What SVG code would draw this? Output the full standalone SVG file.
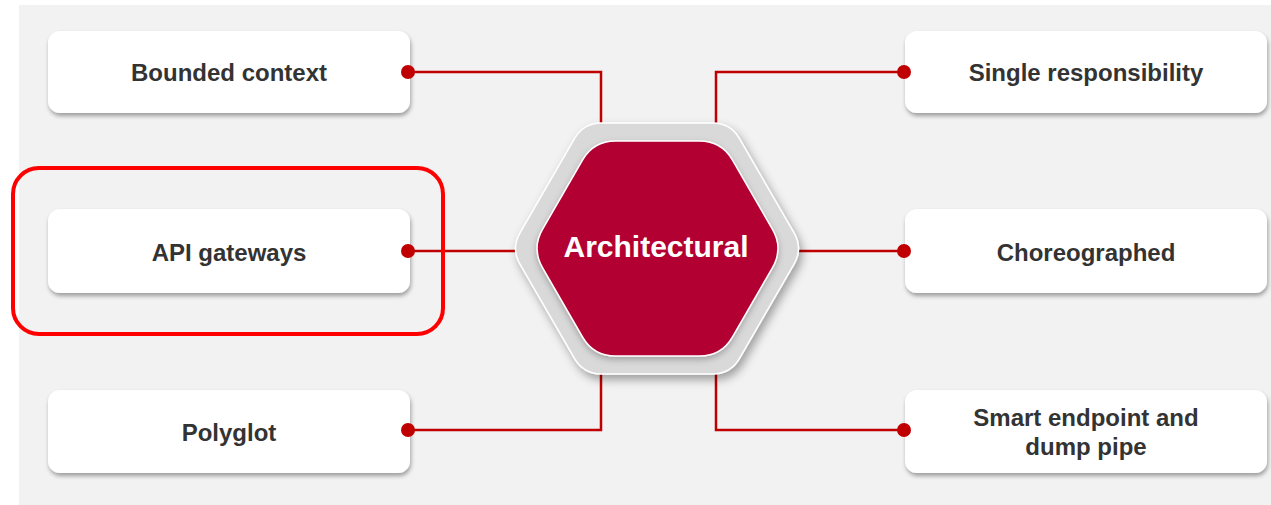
<svg xmlns="http://www.w3.org/2000/svg" width="1271" height="505" viewBox="0 0 1271 505">
  <defs>
    <filter id="sh" x="-10%" y="-20%" width="120%" height="150%">
      <feDropShadow dx="1" dy="3" stdDeviation="2" flood-color="#000" flood-opacity="0.35"/>
    </filter>
    <filter id="hsh" x="-20%" y="-20%" width="140%" height="140%">
      <feDropShadow dx="3" dy="5" stdDeviation="5" flood-color="#000" flood-opacity="0.35"/>
    </filter>
    <filter id="ish" x="-20%" y="-20%" width="140%" height="140%">
      <feDropShadow dx="0" dy="3" stdDeviation="3" flood-color="#000" flood-opacity="0.25"/>
    </filter>
    <style>
      .box { fill: #ffffff; filter: url(#sh); }
      .lbl { font-family: "Liberation Sans", Arial, sans-serif; font-weight: bold; font-size: 24px; fill: #333333; text-anchor: middle; }
      .con { fill: none; stroke: #c00000; stroke-width: 2.5; }
      .dot { fill: #c00000; }
    </style>
  </defs>

  <rect x="0" y="0" width="1271" height="505" fill="#ffffff"/>
  <rect x="19" y="5" width="1252" height="500" fill="#f2f2f2"/>

  <g id="connectors">
    <polyline class="con" points="408,72 601,72 601,124"/>
    <polyline class="con" points="904,72 716,72 716,124"/>
    <line class="con" x1="408" y1="251" x2="520" y2="251"/>
    <line class="con" x1="795" y1="251" x2="904" y2="251"/>
    <polyline class="con" points="408,430 601,430 601,372"/>
    <polyline class="con" points="904,430 716,430 716,372"/>
  </g>

  <g id="node-bounded-context">
    <rect class="box" x="48" y="31" width="362" height="82" rx="12"/>
    <text class="lbl" x="229" y="81">Bounded context</text>
    <circle class="dot" cx="408" cy="72" r="7"/>
  </g>

  <g id="node-api-gateways">
    <rect class="box" x="48" y="209" width="362" height="84" rx="12"/>
    <text class="lbl" x="229" y="261">API gateways</text>
    <circle class="dot" cx="408" cy="251" r="7"/>
  </g>

  <g id="highlight">
    <rect x="13" y="168" width="430" height="166" rx="26" fill="none" stroke="#ff0000" stroke-width="4"/>
  </g>

  <g id="node-polyglot">
    <rect class="box" x="48" y="390" width="362" height="83" rx="12"/>
    <text class="lbl" x="229" y="441">Polyglot</text>
    <circle class="dot" cx="408" cy="430" r="7"/>
  </g>

  <g id="node-single-responsibility">
    <rect class="box" x="905" y="31" width="362" height="82" rx="12"/>
    <text class="lbl" x="1086" y="81">Single responsibility</text>
    <circle class="dot" cx="904" cy="72" r="7"/>
  </g>

  <g id="node-choreographed">
    <rect class="box" x="905" y="209" width="362" height="84" rx="12"/>
    <text class="lbl" x="1086" y="261">Choreographed</text>
    <circle class="dot" cx="904" cy="251" r="7"/>
  </g>

  <g id="node-smart-endpoint">
    <rect class="box" x="905" y="390" width="362" height="83" rx="12"/>
    <text class="lbl" x="1086" y="426">Smart endpoint and</text>
    <text class="lbl" x="1086" y="455">dump pipe</text>
    <circle class="dot" cx="904" cy="430" r="7"/>
  </g>

  <g id="node-architectural">
    <path d="M520,264.1 Q511,248.5 520,232.9 L574.5,138.6 Q583.5,123 601.5,123 L712.5,123 Q730.5,123 739.5,138.6 L794,232.9 Q803,248.5 794,264.1 L739.5,358.4 Q730.5,374 712.5,374 L601.5,374 Q583.5,374 574.5,358.4 Z" fill="#d9d9d9" stroke="#ffffff" stroke-width="1.5" filter="url(#hsh)"/>
    <path d="M542.5,267.6 Q531.5,248.5 542.5,229.4 L582.5,160.1 Q593.5,141 615.5,141 L699.5,141 Q721.5,141 732.5,160.1 L772.5,229.4 Q783.5,248.5 772.5,267.6 L732.5,336.9 Q721.5,356 699.5,356 L615.5,356 Q593.5,356 582.5,336.9 Z" fill="#b30033" stroke="#ffffff" stroke-width="1.5" filter="url(#ish)"/>
    <text x="656" y="257" font-family="Liberation Sans, Arial, sans-serif" font-weight="bold" font-size="30" fill="#ffffff" text-anchor="middle">Architectural</text>
  </g>
</svg>
